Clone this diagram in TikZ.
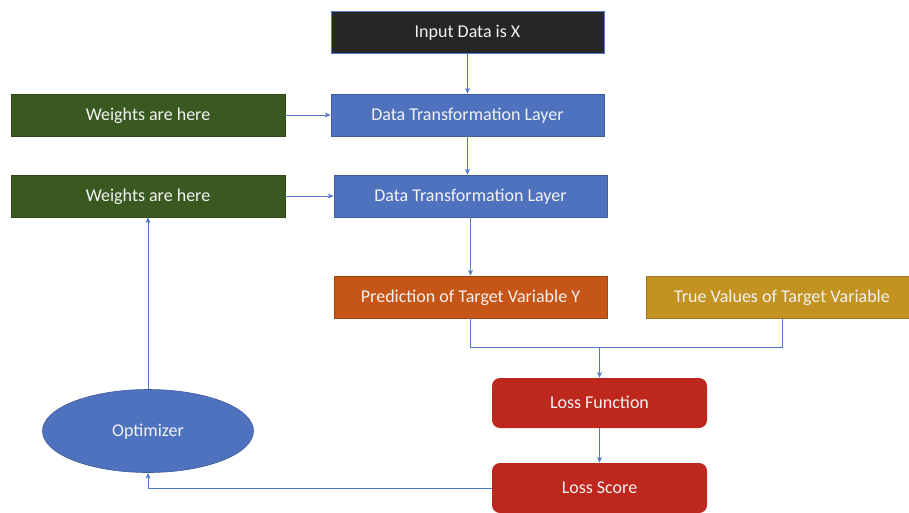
\documentclass[tikz,border=0pt]{standalone}
\usepackage{fontspec}
\setmainfont{Carlito}
\usepackage{xcolor}
\usetikzlibrary{arrows.meta,shapes.geometric}
\definecolor{boxblue}{HTML}{4F72BE}
\definecolor{edgeblue}{HTML}{3A5A9C}
\definecolor{boxgreen}{HTML}{3A5920}
\definecolor{boxorange}{HTML}{C65617}
\definecolor{boxgold}{HTML}{C29320}
\definecolor{boxred}{HTML}{BE271D}
\definecolor{boxblack}{HTML}{262626}
\definecolor{linkblue}{HTML}{5078C8}

\begin{document}
\begin{tikzpicture}[x=1pt,y=-1pt,
  box/.style={draw=#1!80!black,line width=0.6pt,fill=#1,text=white!95!black,
    minimum width=273pt,minimum height=42pt,inner sep=0pt,
    text height=11pt,text depth=1pt,
    font=\fontsize{18}{21}\selectfont},
  redbox/.style={box=boxred,draw=none,rounded corners=8pt,minimum width=215pt,minimum height=50pt},
  link/.style={draw=linkblue,line width=0.8pt},
  arr/.style={link,-{Stealth[length=6pt,width=5pt]}}]
\useasboundingbox (0,0) rectangle (909,512);
\clip (0,0) rectangle (909,512);

% network column
\node[box=boxblack,draw=linkblue] (input) at (467.5,32) {Input Data is X};
\node[box=boxblue] (dtlA) at (467.5,115) {Data Transformation Layer};
\node[box=boxblue] (dtlB) at (470.5,196) {Data Transformation Layer};
\node[box=boxgreen,minimum width=274pt] (wA) at (148,115) {Weights are here};
\node[box=boxgreen,minimum width=274pt] (wB) at (148,196) {Weights are here};

% outputs and loss
\node[box=boxorange] (pred) at (470.5,297) {Prediction of Target Variable Y};
\node[box=boxgold,minimum width=272pt] (truev) at (782,297) {True Values of Target Variable};
\node[redbox] (lossf) at (599.5,403) {Loss Function};
\node[redbox] (losss) at (599.5,488) {Loss Score};
\node[ellipse,fill=boxblue,draw=edgeblue,line width=0.6pt,text=white!95!black,
  minimum width=211pt,minimum height=83pt,inner sep=0pt,
  text height=11pt,text depth=1pt,
  font=\fontsize{18}{21}\selectfont] (opt) at (148,431) {Optimizer};

\coordinate (join) at ([yshift=30pt]lossf.north);

\draw[arr] (input.south) -- (dtlA.north);
\draw[arr] (wA.east) -- (dtlA.west);
\draw[arr] (dtlA.south) -- (dtlA.south |- dtlB.north);
\draw[arr] (wB.east) -- (dtlB.west);
\draw[arr] (dtlB.south) -- (pred.north);
\draw[link] (pred.south) |- (join);
\draw[link] (truev.south) |- (join);
\draw[arr] (join) -- (lossf.north);
\draw[arr] (lossf.south) -- (losss.north);
\draw[arr] (losss.west) -| (opt.south);
\draw[arr] (opt.north) -- (wB.south);
\end{tikzpicture}
\end{document}
